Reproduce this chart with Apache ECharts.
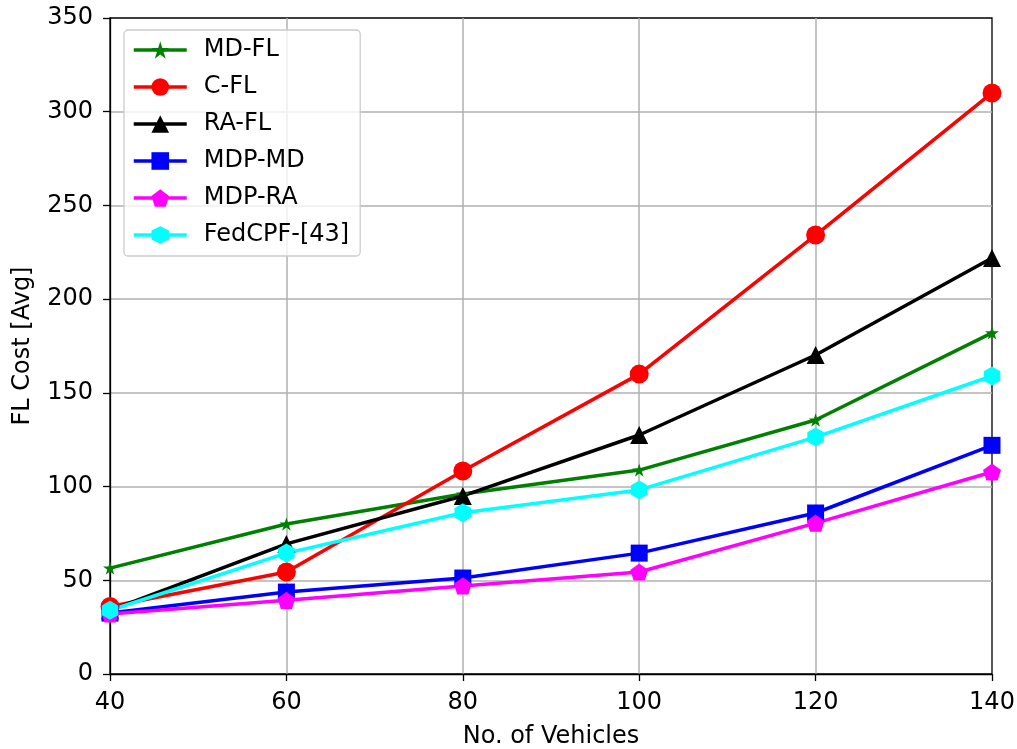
<!DOCTYPE html>
<html>
<head>
<meta charset="utf-8">
<script src="https://cdn.jsdelivr.net/npm/echarts@6/dist/echarts.min.js"></script>
<style>
  html, body { margin: 0; padding: 0; background: #fff; }
  #chart { width: 1017px; height: 749px; }
</style>
</head>
<body>
<div id="chart"></div>
<script>
// Number of vehicles (x axis)
const vehicles = [40, 60, 80, 100, 120, 140];

// Average FL cost per scheme
const mdFL    = [56.5, 80, 96, 108.8, 135.5, 182];
const cFL     = [36, 54.4, 108.3, 160, 234.2, 310];
const raFL    = [34, 69.4, 95, 127.5, 170.2, 222];
const mdpMD   = [32.5, 43.7, 51.2, 64.5, 85.9, 122];
const mdpRA   = [32, 39.3, 47, 54.4, 80.5, 107.8];
const fedCPF  = [34, 64.5, 86, 98.2, 126.4, 159];

const seriesNames = ['MD-FL', 'C-FL', 'RA-FL', 'MDP-MD', 'MDP-RA', 'FedCPF-[43]'];

// Marker shapes
const STAR = 'path://M100 0 L122 69 L195 69 L136 112 L159 181 L100 138 L41 181 L64 112 L5 69 L78 69 Z';
const PENTAGON = 'path://M100 0 L195 69 L159 181 L41 181 L5 69 Z';
const HEXAGON = 'path://M100 0 L187 50 L187 150 L100 200 L13 150 L13 50 Z';

const FONT = 'DejaVu Sans';
const FONT_SIZE = 24;

function pairs(values) {
  return vehicles.map((v, i) => [v, values[i]]);
}

function lineSeries(name, values, color, symbol, size) {
  return {
    name: name,
    type: 'line',
    data: pairs(values),
    symbol: symbol,
    symbolSize: size,
    symbolKeepAspect: true,
    showAllSymbol: true,
    lineStyle: { color: color, width: 3.5 },
    itemStyle: { color: color, borderWidth: 0 },
    emphasis: { disabled: true },
    animation: false,
    z: 3
  };
}

const axisCommon = {
  nameLocation: 'middle',
  nameTextStyle: { fontFamily: FONT, fontSize: FONT_SIZE, color: '#000' },
  axisLine: { show: true, lineStyle: { color: '#000', width: 1.3 } },
  axisTick: { show: true, length: 7, lineStyle: { color: '#000', width: 1.3 } },
  axisLabel: { fontFamily: FONT, fontSize: FONT_SIZE, color: '#000', margin: 17 },
  splitLine: {
    show: true,
    showMinLine: false,
    showMaxLine: false,
    lineStyle: { color: '#b0b0b0', width: 1.5 }
  }
};

const chart = echarts.init(document.getElementById('chart'), null, { renderer: 'canvas' });

chart.setOption({
  backgroundColor: '#ffffff',
  animation: false,
  grid: {
    left: 110, right: 25, top: 18, bottom: 75,
    outerBoundsMode: 'none',
    containLabel: false,
    show: true,
    borderColor: '#000',
    borderWidth: 1.3,
    backgroundColor: 'transparent'
  },
  legend: {
    orient: 'vertical',
    left: 124,
    top: 30,
    padding: [8, 11, 9, 8],
    backgroundColor: 'rgba(255,255,255,0.8)',
    borderColor: '#cccccc',
    borderWidth: 1.3,
    borderRadius: 4,
    itemWidth: 53,
    itemHeight: 22,
    itemGap: 13,
    data: seriesNames,
    lineStyle: { width: 3.5 },
    textStyle: {
      fontFamily: FONT,
      fontSize: FONT_SIZE,
      color: '#000',
      padding: [0, 0, 0, 12]
    }
  },
  xAxis: Object.assign({}, axisCommon, {
    type: 'value',
    min: 40,
    max: 140,
    interval: 20,
    name: 'No. of Vehicles',
    nameGap: 51
  }),
  yAxis: Object.assign({}, axisCommon, {
    type: 'value',
    min: 0,
    max: 350,
    interval: 50,
    name: 'FL Cost [Avg]',
    nameGap: 75
  }),
  series: [
    lineSeries('MD-FL', mdFL, '#008000', STAR, 14),
    lineSeries('C-FL', cFL, '#ff0000', 'circle', 19),
    lineSeries('RA-FL', raFL, '#000000', 'triangle', 18),
    lineSeries('MDP-MD', mdpMD, '#0000ff', 'rect', 17),
    lineSeries('MDP-RA', mdpRA, '#ff00ff', PENTAGON, 18),
    lineSeries('FedCPF-[43]', fedCPF, '#00ffff', HEXAGON, 19)
  ]
});
</script>
</body>
</html>
